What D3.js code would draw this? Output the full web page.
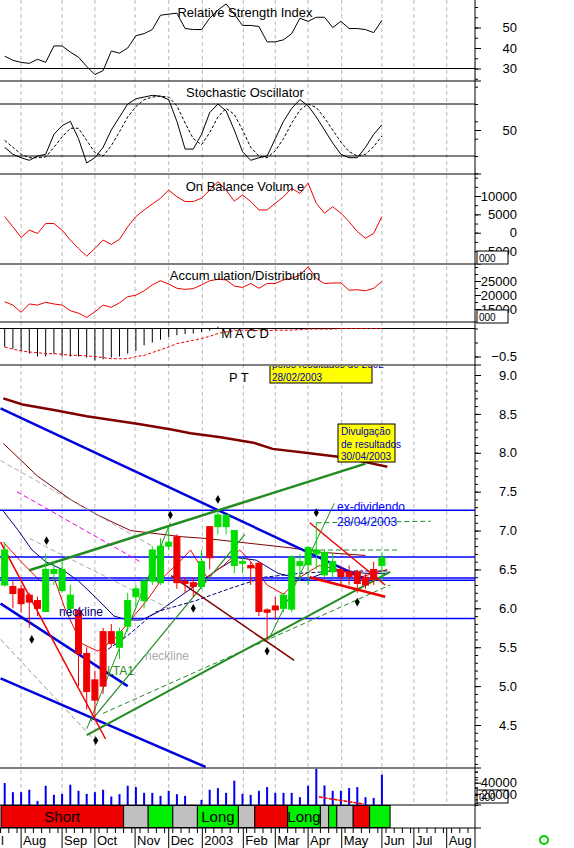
<!DOCTYPE html><html><head><meta charset="utf-8">
<script src="https://cdn.jsdelivr.net/npm/d3@7"></script>
<style>body{margin:0;background:#fff}svg{display:block}text{font-family:"Liberation Sans",Arial,sans-serif}</style>
</head><body><svg id="c" width="574" height="848"></svg>
<script>
const monthTicks=[[2,"Aug"],[7,"Sep"],[11,"Oct"],[15.9,"Nov"],[20,"Dec"],[24.1,"2003"],[29.1,"Feb"],[33,"Mar"],[37,"Apr"],[41.1,"May"],[46,"Jun"],[49.9,"Jul"],[53.9,"Aug"]];
const openP=[6.3,6.28,6.25,6.17,6.1,5.96,6.45,6.23,6.0,5.97,5.42,5.08,5.7,5.7,5.5,5.77,6.15,6.1,6.35,6.33,6.8,6.92,6.35,6.33,6.28,7.05,7.05,7.05,6.55,6.58,6.55,6.58,5.98,6.03,6.0,5.99,6.55,6.56,6.7,6.43,6.47,6.5,6.47,6.47,6.4,6.5,6.55];
const closeP=[6.75,6.19,6.06,6.08,6.0,6.5,6.5,6.5,6.17,5.42,4.93,4.82,5.0,5.55,5.7,6.1,6.25,6.35,6.75,6.8,6.85,6.33,6.32,6.28,6.6,6.65,7.2,7.2,7.0,6.6,6.52,5.96,5.95,5.98,6.17,6.66,6.6,6.78,6.75,6.72,6.6,6.41,6.41,6.32,6.3,6.37,6.65];
const highP=[6.85,6.35,6.3,6.2,6.15,6.7,6.6,6.6,6.3,6.0,5.5,5.2,5.75,5.8,5.75,6.2,6.3,6.4,6.8,6.9,7.05,6.95,6.4,6.4,6.75,7.05,7.25,7.2,7.0,6.65,6.6,6.6,6.0,6.15,6.2,6.68,6.7,6.8,7.1,6.75,6.7,6.55,6.55,6.5,6.45,6.6,6.72];
const lowP=[6.28,6.0,5.95,5.75,5.9,5.95,6.3,6.2,5.9,5.0,4.7,4.6,4.9,5.5,5.35,5.7,6.0,6.0,6.3,6.3,6.75,6.25,6.2,6.15,6.25,6.5,6.95,6.95,6.45,6.45,6.3,5.9,5.6,5.85,5.95,5.95,6.35,6.3,6.5,6.4,6.4,6.3,6.3,6.2,6.25,6.3,6.35];
const rsi=[36,34,33,32.5,34.5,33,41,41,38,35.5,31,27,29,38.5,37.5,40,46,47,49,56,56.5,57,49.5,49,49,54.5,58.5,61.5,56.5,51,51,50.5,43,43,44,47,54.5,53,55,55,50,53,49.5,49.5,49,47.5,53.5];
const stochK=[30,22,18,15,20,22,45,55,60,40,12,18,30,50,65,80,86,88,90,89,85,60,28,28,45,70,80,72,50,25,15,18,20,40,60,75,85,78,65,50,35,22,18,18,30,45,56];
const stochD=[38,30,22,18,18,19,30,42,52,52,38,24,20,32,48,65,77,85,88,89,88,78,58,40,33,47,65,75,68,50,30,20,18,26,40,58,73,80,76,64,50,36,25,20,22,31,43];
const obv=[4.4,1.6,-1.3,0.7,-0.2,2.5,2.5,0.7,-2,-4.3,-6.4,-4.3,-2,-3.2,-1.8,1.6,4.4,6.2,7.8,9.4,11.6,9.8,8.5,8.5,9.4,11.6,13.9,11.6,8.6,10.3,8.5,6.2,6.2,8,9.8,12.1,10.7,13.5,8,5.3,7.1,5.3,3,0.3,-1.5,-0.2,4.4];
const accDist=[17.6,16.4,13.8,16.8,16.4,17.4,16.8,16.4,14.4,13.5,12.0,14.0,16.4,15.6,17.2,19.4,19.9,21.5,23.6,25.1,23.9,22.4,22.0,22.3,23.6,25.1,25.6,25.4,23.2,22.7,24.1,22.4,24.1,24.1,25.4,25.9,27.1,30.1,25.9,24.1,24.3,24.3,21.7,21.9,21.5,22.4,24.8];
const macdHist=[-0.33,-0.36,-0.4,-0.45,-0.5,-0.5,-0.45,-0.5,-0.5,-0.5,-0.52,-0.57,-0.55,-0.52,-0.5,-0.45,-0.4,-0.3,-0.25,-0.2,-0.15,-0.12,-0.1,-0.09,-0.06,-0.04,0.03,0,-0.02,-0.01,0.01,-0.02,-0.03,-0.02,-0.01,0,0,0,0,0,0,0,0,0,0,0,0];
const macdSig=[-0.33,-0.37,-0.4,-0.42,-0.43,-0.45,-0.45,-0.46,-0.48,-0.48,-0.49,-0.5,-0.52,-0.54,-0.54,-0.54,-0.5,-0.48,-0.43,-0.38,-0.33,-0.27,-0.24,-0.21,-0.18,-0.14,-0.09,-0.06,-0.04,-0.03,-0.03,-0.04,-0.04,-0.03,-0.03,-0.03,-0.02,-0.01,-0.01,-0.01,-0.01,0,0,0,0,0,0];
const volume=[39400,23000,23000,27300,7300,34500,18200,20000,36400,25500,20000,23000,27300,15200,19400,34500,32100,21800,21800,16400,25500,19400,16400,0,9100,27300,30300,21800,43600,20000,18200,25500,32100,21800,21800,21800,14000,34500,64800,35200,25500,25500,30300,32100,14000,12700,54500];
const maLong=[[-0.5,8.7],[6.5,8.62],[18,8.55],[30,8.47],[49,8.37],[61,8.3],[68,8.25],[79,8.2],[91,8.13],[98,8.05],[110,8.0],[122,7.95],[132,7.88],[140,7.82]];
const maMid=[[-0.5,8.12],[12,7.7],[24,7.4],[34,7.2],[46,7.0],[65,6.92],[73,6.9],[86,6.85],[104,6.78],[116,6.72],[132,6.68]];
const maNavy=[[-0.5,7.25],[5,7.0],[10,6.75],[15,6.6],[21,6.5],[27,6.35],[33,6.15],[40,5.9],[45,5.85],[50,5.85],[56,5.95],[62,6.1],[70,6.3],[78,6.5],[85,6.65],[92,6.62],[100,6.45],[110,6.36],[120,6.5],[132,6.45],[140,6.45]];
const maRed=[[-0.5,6.85],[6,6.6],[13,6.35],[18,6.4],[22,6.0],[28,5.55],[34,5.45],[40,5.6],[46,5.85],[52,6.1],[58,6.4],[64,6.6],[68,6.75],[74,6.4],[80,6.55],[86,6.75],[90,6.6],[96,6.3],[102,6.18],[108,6.4],[115,6.55],[122,6.5],[130,6.4],[140,6.5]];
const maBlueDash=[[36,5.43],[45,5.65],[55,5.95],[70,6.1],[82,6.25],[95,6.4],[108,6.45],[122,6.48],[140,6.48]];
const hLines=[7.26,6.66,6.39,6.36,5.87];
const trendLines=[
 {a:[-0.5,8.57],b:[44.5,6.35],c:"#0000dd",w:2.5},
 {a:[-0.5,5.1],b:[24.5,3.96],c:"#0000dd",w:2.5},
 {a:[-0.5,6.06],b:[15,5.0],c:"#0000dd",w:2.5},
 {a:[3,6.49],b:[44,7.86],c:"#228b22",w:2.5},
 {a:[10,4.37],b:[47,6.47],c:"#228b22",w:2},
 {a:[10,4.45],b:[20.2,7.1],c:"#228b22",w:1},
 {a:[10.5,4.55],b:[29.3,6.95],c:"#228b22",w:1.2},
 {a:[32.2,5.6],b:[40.2,7.35],c:"#228b22",w:1},
 {a:[-0.5,6.85],b:[12.3,4.32],c:"#ee0000",w:1.5},
 {a:[37.2,7.1],b:[46.4,6.3],c:"#ee0000",w:1.5},
 {a:[37.2,6.4],b:[46.4,6.15],c:"#ee0000",w:2.5},
 {a:[20.3,6.42],b:[35.3,5.33],c:"#800000",w:1.5}];
const dashLines=[{a:[38,7.1],b:[52,7.12],c:"#228b22"},{a:[36.5,6.75],b:[48,6.75],c:"#228b22"},{a:[12,4.65],b:[47,6.3],c:"#228b22"},
 {a:[-0.5,7.9],b:[18,6.8],c:"#aaaaaa"},{a:[3,6.9],b:[20,6.0],c:"#aaaaaa"},{a:[1.5,7.5],b:[16.5,6.6],c:"#ee00ee"},{a:[-0.5,5.6],b:[11,4.3],c:"#999999"}];
const diamonds=[[5.1,6.87],[3.3,5.6],[11.1,4.3],[20.2,7.2],[23,6.0],[26,7.4],[32,5.45],[38,7.23],[43,6.08]];
const signals=[[-0.5,14.5,"#ee0000","Short"],[14.5,17.5,"#c0c0c0",""],[17.5,20.5,"#00ee00",""],[20.5,23.5,"#c0c0c0",""],[23.5,28.5,"#00ee00","Long"],[28.5,30.5,"#c0c0c0",""],[30.5,34.5,"#ee0000",""],[34.5,38.5,"#00ee00","Long"],[38.5,39.5,"#c0c0c0",""],[39.5,40.5,"#00ee00",""],[40.5,42.5,"#c0c0c0",""],[42.5,44.5,"#ee0000",""],[44.5,47,"#00ee00",""]];
const rsiTicks=[30,40,50],stochTicks=[50],obvTicks=[10000,5000,0,-5000],adTicks=[25000,20000,15000],macdTicks=[-0.5],priceTicks=[4.5,5,5.5,6,6.5,7,7.5,8,8.5,9],volTicks=[40000,20000];

const svg=d3.select("#c"),W=574,R=475;
const x=d3.scaleLinear().domain([0,46]).range([4.7,381.9]);
const xl=d3.scaleLinear().domain([0,46*3]).range([4.7,381.9]);
monthTicks.forEach(([i])=>svg.append("line").attr("x1",x(i)).attr("x2",x(i)).attr("y1",0).attr("y2",805).attr("stroke","#bbb").attr("stroke-dasharray","4,3"));
svg.append("line").attr("x1",R).attr("x2",R).attr("y1",0).attr("y2",848).attr("stroke","#000");
[81,174,264,322,365,768,805,828].forEach(y=>svg.append("line").attr("x1",0).attr("x2",R+6).attr("y1",y).attr("y2",y).attr("stroke","#000"));
function axis(y,ticks,fmt,minor){
 const g=svg.append("g").attr("transform",`translate(${R},0)`);
 g.call(d3.axisRight(y).tickValues(ticks).tickFormat(fmt).tickSize(6).tickPadding(30));
 g.select(".domain").remove();
 g.selectAll("text").attr("text-anchor","end").attr("x",42).style("font-size","13px").style("font-family","Liberation Sans");
 if(minor)g.append("g").call(d3.axisRight(y).tickValues(minor).tickFormat("").tickSize(3)).select(".domain").remove();
}
function tline(data,x0,y,col,dash,w){svg.append("path").datum(data).attr("d",d3.line().x((d,i)=>x0(i)).y(d=>y(d))).attr("fill","none").attr("stroke",col).attr("stroke-width",w||1).attr("stroke-dasharray",dash||null);}
function title(t,xx,yy){svg.append("text").attr("x",xx).attr("y",yy).attr("text-anchor","middle").style("font-size","13px").text(t);}
const yR=d3.scaleLinear().domain([30,50]).range([68.5,27.5]);
axis(yR,rsiTicks,d3.format("d"),d3.range(25,66,5));
svg.append("line").attr("x1",0).attr("x2",R).attr("y1",yR(30)).attr("y2",yR(30)).attr("stroke","#000");
tline(rsi,x,yR,"#000");title("Relative Strength Index",245,17);
const yS=d3.scaleLinear().domain([20,80]).range([156,104]);
axis(yS,stochTicks,d3.format("d"),[0,20,40,60,80,100]);
[20,80].forEach(v=>svg.append("line").attr("x1",0).attr("x2",R).attr("y1",yS(v)).attr("y2",yS(v)).attr("stroke","#000"));
tline(stochD,x,yS,"#000","3,2");tline(stochK,x,yS,"#000");title("Stochastic Oscillator",245,97);
const yO=d3.scaleLinear().domain([0,10000]).range([232.7,196]);
axis(yO,obvTicks,d3.format("d"),d3.range(-5000,15001,2500));
tline(obv.map(v=>v*1000),x,yO,"#ee0000");title("On Balance Volum e",245,191);
const yA=d3.scaleLinear().domain([20000,25000]).range([295,281]);
axis(yA,adTicks,d3.format("d"),d3.range(15000,30001,2500));
tline(accDist.map(v=>v*1000),x,yA,"#ee0000");title("Accum ulation/Distribution",245,280);
[[251],[310],[790]].forEach(([y])=>{svg.append("rect").attr("x",477).attr("y",y).attr("width",31).attr("height",13).attr("fill","#fff").attr("stroke","#000");svg.append("text").attr("x",479).attr("y",y+11).style("font-size","10px").text("000");});
const yM=d3.scaleLinear().domain([0,-0.5]).range([328.5,356.5]);
axis(yM,macdTicks,d3.format(".1f"),[0,-0.25,-0.5]);
svg.append("line").attr("x1",0).attr("x2",R).attr("y1",yM(0)).attr("y2",yM(0)).attr("stroke","#000");
macdHist.forEach((v,i)=>svg.append("line").attr("x1",x(i)).attr("x2",x(i)).attr("y1",yM(0)).attr("y2",yM(v)).attr("stroke","#000"));
tline(macdSig,x,yM,"#ee0000","3,2");title("M A C D",245,338);
svg.append("defs").append("clipPath").attr("id","pc").append("rect").attr("x",0).attr("y",366).attr("width",R).attr("height",402);
const P=svg.append("g").attr("clip-path","url(#pc)");
const yP=d3.scaleLinear().domain([4.5,9]).range([725,375]);
axis(yP,priceTicks,d3.format(".1f"),d3.range(3.5,9.01,0.1));
const L=(pts,col,w,dash)=>P.append("path").datum(pts).attr("d",d3.line().x(d=>xl(d[0])).y(d=>yP(d[1]))).attr("fill","none").attr("stroke",col).attr("stroke-width",w).attr("stroke-dasharray",dash||null);
L(maLong,"#800000",2.5);L(maMid,"#800000",1);L(maNavy,"#000080",1);L(maRed,"#ee0000",1);L(maBlueDash,"#000080",1,"4,2");
hLines.forEach(v=>P.append("line").attr("x1",0).attr("x2",R).attr("y1",yP(v)).attr("y2",yP(v)).attr("stroke","#0000ff").attr("stroke-width",1.5));
dashLines.forEach(t=>P.append("line").attr("x1",x(t.a[0])).attr("y1",yP(t.a[1])).attr("x2",x(t.b[0])).attr("y2",yP(t.b[1])).attr("stroke",t.c).attr("stroke-dasharray","5,3"));
trendLines.forEach(t=>P.append("line").attr("x1",x(t.a[0])).attr("y1",yP(t.a[1])).attr("x2",x(t.b[0])).attr("y2",yP(t.b[1])).attr("stroke",t.c).attr("stroke-width",t.w));
openP.forEach((o,i)=>{const c=closeP[i],up=c>=o,col=up?"#00dd00":"#ee0000";
 P.append("line").attr("x1",x(i)).attr("x2",x(i)).attr("y1",yP(highP[i])).attr("y2",yP(lowP[i])).attr("stroke",col);
 P.append("rect").attr("x",x(i)-3).attr("width",6).attr("y",yP(Math.max(o,c))).attr("height",Math.max(1,Math.abs(yP(o)-yP(c)))).attr("fill",col).attr("stroke",col);});
diamonds.forEach(([i,v])=>P.append("path").attr("d",d3.symbol(d3.symbolDiamond,22)()).attr("transform",`translate(${x(i)},${yP(v)})`).attr("fill","#000"));
const T=(t,xx,yy,c,s)=>P.append("text").attr("x",xx).attr("y",yy).attr("fill",c).style("font-size",(s||12)+"px").text(t);
T("P T",229,382,"#000",13);T("neckline",59,616,"#000080");T("neckline",145,660,"#aaa");T("LTA1",107,675,"#228b22");
T("ex-dividendo",337,511,"#0000ff");T("28/04/2003",337,526,"#0000ff");
P.append("rect").attr("x",270).attr("y",355).attr("width",102).attr("height",28).attr("fill","#ffff00").attr("stroke","#000");
T("pelos resultados de 2002",272,368,"#0000aa",10);T("28/02/2003",272,381,"#0000aa",10);
P.append("rect").attr("x",338).attr("y",424).attr("width",57).attr("height",38).attr("fill","#ffff00").attr("stroke","#000");
T("Divulgação",341,435,"#0000aa",10);T("de resultados",341,448,"#0000aa",10);T("30/04/2003",341,460,"#0000aa",10);
const yV=d3.scaleLinear().domain([0,40000]).range([805,782.7]);
axis(yV,volTicks,d3.format("d"),d3.range(0,60001,10000));
svg.append("clipPath").attr("id","vc").append("rect").attr("x",0).attr("y",768).attr("width",R).attr("height",37);
volume.forEach((v,i)=>{if(v>0)svg.append("rect").attr("clip-path","url(#vc)").attr("x",x(i)-1).attr("width",2).attr("y",yV(v)).attr("height",805-yV(v)).attr("fill","#0000ee");});
svg.append("line").attr("x1",x(38.3)).attr("x2",x(43.8)).attr("y1",797).attr("y2",804).attr("stroke","#ee0000").attr("stroke-dasharray","4,1").attr("stroke-width",1.5);
signals.forEach(([a,b,c,t])=>{const x0=Math.max(1,x(a)),x1=x(b);svg.append("rect").attr("x",x0).attr("y",805.5).attr("width",x1-x0).attr("height",22).attr("fill",c).attr("stroke","#000");
 if(t)svg.append("text").attr("x",(x0+x1)/2).attr("y",822).attr("text-anchor","middle").style("font-size","15px").text(t);});
const xb=svg.append("g").attr("transform","translate(0,828)");
d3.range(-0.5,57,1).forEach(i=>xb.append("line").attr("x1",x(i)).attr("x2",x(i)).attr("y1",0).attr("y2",5).attr("stroke","#000"));
monthTicks.forEach(([i,t])=>{xb.append("line").attr("x1",x(i)).attr("x2",x(i)).attr("y1",0).attr("y2",20).attr("stroke","#000");xb.append("text").attr("x",x(i)+2).attr("y",17).style("font-size","13px").text(t);});
xb.append("text").attr("x",1).attr("y",17).style("font-size","13px").text("l");
svg.append("circle").attr("cx",544).attr("cy",840).attr("r",4).attr("fill","none").attr("stroke","#00cc00").attr("stroke-width",2);
</script></body></html>
